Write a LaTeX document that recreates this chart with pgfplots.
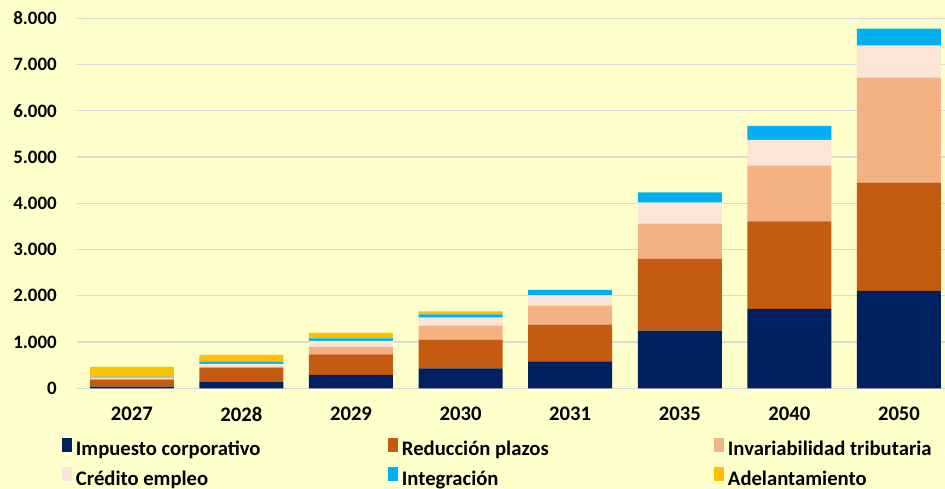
\documentclass[border=0pt]{standalone}
\usepackage{fontspec}
\setmainfont{Carlito}
\usepackage{pgfplots}
\pgfplotsset{compat=1.18}
\definecolor{bgc}{HTML}{FFFFCC}
\definecolor{cImp}{HTML}{002060}
\definecolor{cRed}{HTML}{C55A11}
\definecolor{cInv}{HTML}{F4B183}
\definecolor{cCre}{HTML}{FBE5D6}
\definecolor{cInt}{HTML}{00B0F0}
\definecolor{cAde}{HTML}{FFC000}
\definecolor{gridc}{HTML}{D9D9D9}
\newcommand{\yf}{\fontsize{14.2}{16}\selectfont\bfseries}
\newcommand{\lf}{\fontsize{15.5}{17}\selectfont\bfseries}
\begin{document}
\begin{tikzpicture}
\useasboundingbox (-57.75pt,-75.5pt) rectangle (651pt,291.2pt);
\fill[bgc] (-57.75pt,-75.5pt) rectangle (651pt,291.2pt);
\begin{axis}[
  at={(0,0)}, anchor=south west,
  scale only axis,
  width=651pt, height=277.5pt,
  xmin=-0.5, xmax=7.42,
  ymin=0, ymax=8000,
  ybar stacked,
  bar width=63pt,
  clip=false,
  axis line style={draw=none},
  major tick length=0pt,
  ymajorgrids,
  grid style={gridc, line width=0.9pt},
  ytick={0,1000,...,8000},
  xtick={0,...,7},
  xticklabels={2027,2028,2029,2030,2031,2035,2040,2050},
  /pgf/number format/assume math mode=true,
  /pgf/number format/1000 sep={.},
  scaled y ticks=false,
  yticklabel style={font=\yf, anchor=east, inner sep=0pt, xshift=-15pt},
  xticklabel style={font=\lf, anchor=north, inner sep=0pt, yshift=-14pt},
  legend columns=3,
  legend style={
    at={(-0.0173,-0.135)}, anchor=north west,
    draw=none, fill=none, inner sep=0pt, outer sep=0pt,
    font=\lf,
    row sep=5.6pt, column sep=0pt,
    nodes={inner sep=0pt, text height=11.5pt, text depth=3pt},
  },
  legend image code/.code={\fill[#1,draw=none] (0pt,-1.5pt) rectangle (7.5pt,9pt);},
  every axis plot/.append style={draw=none},
]
\addplot[fill=cImp] coordinates {(0,35) (1,143) (2,288) (3,432) (4,584) (5,1246) (6,1715) (7,2104)};
\addlegendentry{\makebox[237pt][l]{\hspace{3pt}Impuesto corporativo}}
\addplot[fill=cRed] coordinates {(0,151) (1,302) (2,447) (3,619) (4,791) (5,1550) (6,1896) (7,2342)};
\addlegendentry{\makebox[237pt][l]{\hspace{3pt}Reducción plazos}}
\addplot[fill=cInv] coordinates {(0,20) (1,20) (2,158) (3,303) (4,411) (5,763) (6,1202) (7,2270)};
\addlegendentry{\makebox[160pt][l]{\hspace{3pt}Invariabilidad tributaria}}
\addplot[fill=cCre] coordinates {(0,23) (1,60) (2,130) (3,173) (4,225) (5,454) (6,556) (7,692)};
\addlegendentry{\makebox[237pt][l]{\hspace{3pt}Crédito empleo}}
\addplot[fill=cInt] coordinates {(0,22) (1,44) (2,58) (3,73) (4,114) (5,225) (6,302) (7,367)};
\addlegendentry{\makebox[237pt][l]{\hspace{3pt}Integración}}
\addplot[fill=cAde] coordinates {(0,210) (1,151) (2,115) (3,65) (4,0) (5,0) (6,0) (7,0)};
\addlegendentry{\makebox[160pt][l]{\hspace{3pt}Adelantamiento}}
\end{axis}
\end{tikzpicture}
\end{document}
